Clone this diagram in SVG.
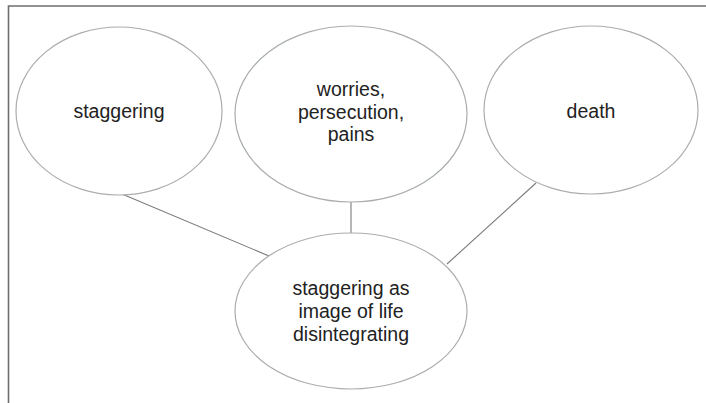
<svg xmlns="http://www.w3.org/2000/svg" width="706" height="403" viewBox="0 0 706 403">
<style>
.node{fill:#ffffff;stroke:#a9aeab;stroke-width:1.2}
.lbl{font-family:"Liberation Sans",Arial,sans-serif;font-size:19.5px;fill:#222222;text-anchor:middle}
.edge{stroke:#7a7a7a;stroke-width:1.1;fill:none}
</style>
<rect width="706" height="403" fill="#ffffff"/>
<path d="M8.5 403 V6 H706" fill="none" stroke="#6e6e6e" stroke-width="1.6"/>
<g id="connectors">
<line class="edge" x1="122" y1="194" x2="269" y2="256"/>
<line class="edge" x1="351" y1="202" x2="351" y2="233"/>
<line class="edge" x1="536" y1="183" x2="447" y2="264"/>
</g>
<g id="node-staggering">
<ellipse class="node" cx="119" cy="111" rx="103" ry="84"/>
<text class="lbl" x="119" y="118">staggering</text>
</g>
<g id="node-worries">
<ellipse class="node" cx="351" cy="114" rx="116" ry="88"/>
<text class="lbl" x="351" y="96">worries,</text>
<text class="lbl" x="351" y="118.5">persecution,</text>
<text class="lbl" x="351" y="141">pains</text>
</g>
<g id="node-death">
<ellipse class="node" cx="591" cy="110" rx="107" ry="84"/>
<text class="lbl" x="591" y="117.5">death</text>
</g>
<g id="node-center">
<ellipse class="node" cx="351" cy="311" rx="116" ry="78"/>
<text class="lbl" x="351" y="295">staggering as</text>
<text class="lbl" x="351" y="318">image of life</text>
<text class="lbl" x="351" y="341">disintegrating</text>
</g>
</svg>
